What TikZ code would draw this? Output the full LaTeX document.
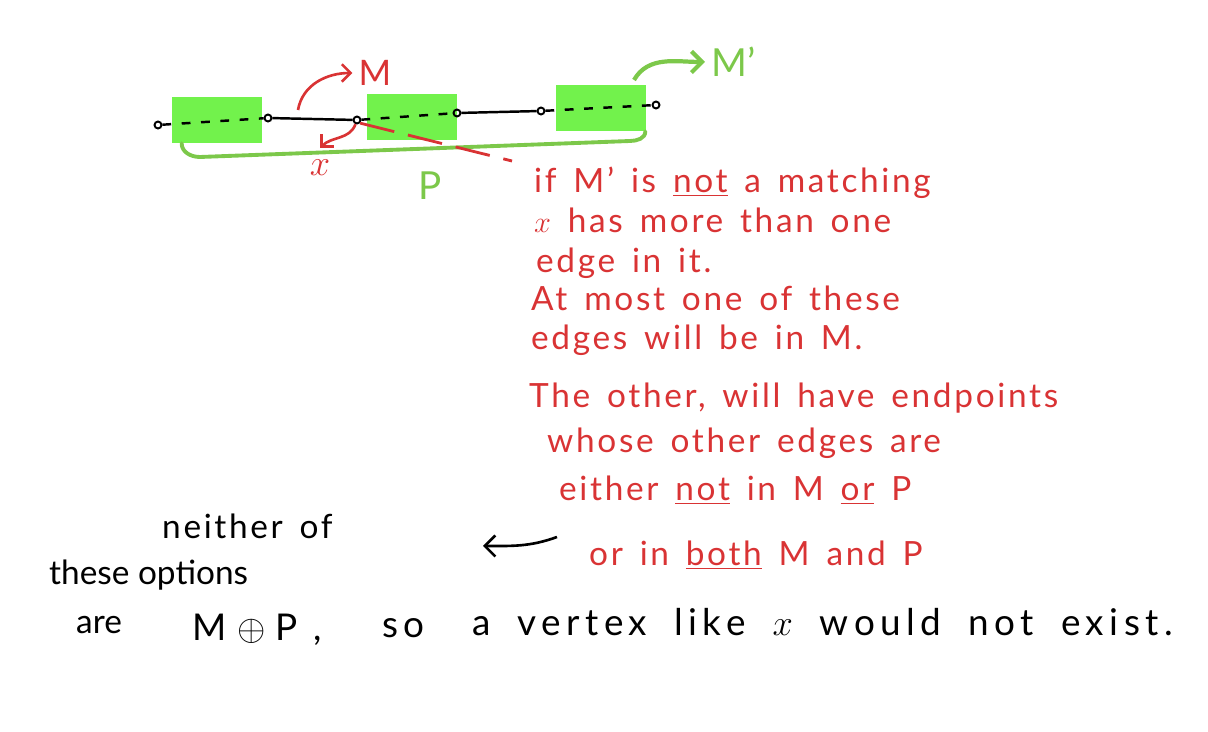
\documentclass[tikz,border=0pt]{standalone}
\usepackage{fontspec}
\setmainfont{Lato}
\newfontfamily\handfont[LetterSpace=8,WordSpace=1.5]{Lato}
\newfontfamily\widehand[LetterSpace=15,WordSpace=1.8]{Lato}
\usetikzlibrary{arrows.meta,calc}

\definecolor{inkred}{HTML}{D93334}
\definecolor{boxgreen}{HTML}{72F24C}
\definecolor{inkgreen}{HTML}{7CC84A}

\tikzset{
  vert/.style={circle,draw,line width=1.1pt,inner sep=1.4pt},
  matchbox/.style={fill=boxgreen,minimum width=1.8cm,minimum height=0.92cm,inner sep=0pt},
  redtxt/.style={text=inkred,anchor=west,font=\handfont\fontsize{19}{22}\selectfont},
  blktxt/.style={anchor=west,font=\handfont\fontsize{19}{22}\selectfont},
  grntxt/.style={text=inkgreen,font=\fontsize{22}{26}\selectfont},
  redarr/.style={inkred,line width=1.5pt,-{Straight Barb[length=5pt]}},
  grnline/.style={inkgreen,line width=2.2pt,line cap=round}
}

\begin{document}
\begin{tikzpicture}[x=0.02cm,y=-0.02cm]
  \useasboundingbox (0,0) rectangle (1208,732);

  % matched pieces of the path
  \node[matchbox] (boxa) at (217,120) {};
  \node[matchbox] (boxb) at (412,117) {};
  \node[matchbox] (boxc) at (601,108) {};

  % vertices
  \node[vert] (v1) at (158,125) {};
  \node[vert] (v2) at (268,118) {};
  \node[vert] (v3) at (357,120) {};
  \node[vert] (v4) at (457,113) {};
  \node[vert] (v5) at (541,111) {};
  \node[vert] (v6) at (656,105) {};

  % edges
  \draw[line width=1.4pt,dash pattern=on 5pt off 6pt] (v1) -- (v2);
  \draw[line width=1.4pt] (v2) -- (v3);
  \draw[line width=1.4pt,dash pattern=on 5pt off 6pt] (v3) -- (v4);
  \draw[line width=1.4pt] (v4) -- (v5);
  \draw[line width=1.4pt,dash pattern=on 5pt off 6pt] (v5) -- (v6);

  % path P
  \draw[grnline] ($(boxa.south west)+(10,0)$) to[out=-90,in=180] (200,157)
    -- (630,141) to[out=0,in=-90] ($(boxc.south east)+(-1,0)$);
  \node[grntxt] (plab) at (430,186) {P};

  % M'
  \node[grntxt,anchor=west] (mplab) at (705,62) {M’};
  \draw[inkgreen,line width=2.4pt,-{Straight Barb[length=6pt]}]
    (634,80) to[out=60,in=180] (mplab.west);

  % M and x
  \node[text=inkred,font=\fontsize{20}{24}\selectfont] (mlab) at (375,73) {M};
  \coordinate (mstart) at (298,110);
  \draw[redarr] (mstart) to[out=80,in=180] (mlab.west);
  \node[text=inkred,font=\fontsize{20}{24}\selectfont] (xlab) at (320,168) {$x$};
  \draw[redarr] (v3) to[out=-110,in=45] ($(xlab.north)+(0,-6)$);

  % crossed edge
  \coordinate (slashend) at (512,161);
  \draw[inkred,line width=1.6pt,dash pattern=on 20pt off 8pt] (v3.south east) -- (slashend);

  % red notes
  \node[redtxt] (r1) at (528,183) {if M’ is \underline{not} a matching};
  \node[redtxt] (r2) at (528,220) {$x$ has more than one};
  \node[redtxt] (r3) at (530,263) {edge in it.};
  \node[redtxt] (r4) at (525,298) {At most one of these};
  \node[redtxt] (r5) at (525,340) {edges will be in M.};
  \node[redtxt] (r6) at (523,398) {The other, will have endpoints};
  \node[redtxt] (r7) at (541,443) {whose other edges are};
  \node[redtxt] (r8) at (553,490) {either \underline{not} in M \underline{or} P};
  \node[redtxt] (r9) at (583,555) {or in \underline{both} M and P};

  % black notes
  \coordinate (backstart) at (557,537);
  \coordinate (backend) at (483,546);
  \draw[line width=1.5pt,-{Straight Barb[length=6pt]}] (backstart) to[out=200,in=0] (backend);
  \node[blktxt] (b1) at (156,526) {neither of};
  \node[blktxt,font=\fontsize{19}{22}\selectfont] (b2) at (43,575) {these options};
  \node[blktxt,font=\fontsize{19}{22}\selectfont] (b3) at (70,625) {are};
  \node[blktxt,font=\fontsize{21}{24}\selectfont] (b4) at (186,630)
    {M\hspace{6pt}$\oplus$\hspace{6pt}P\hspace{9pt},};
  \node[blktxt,font=\widehand\fontsize{21}{24}\selectfont] (b5) at (376,628) {so};
  \node[blktxt,font=\widehand\fontsize{21}{24}\selectfont] (b6) at (466,622) {a vertex like $x$ would not exist.};
\end{tikzpicture}
\end{document}
